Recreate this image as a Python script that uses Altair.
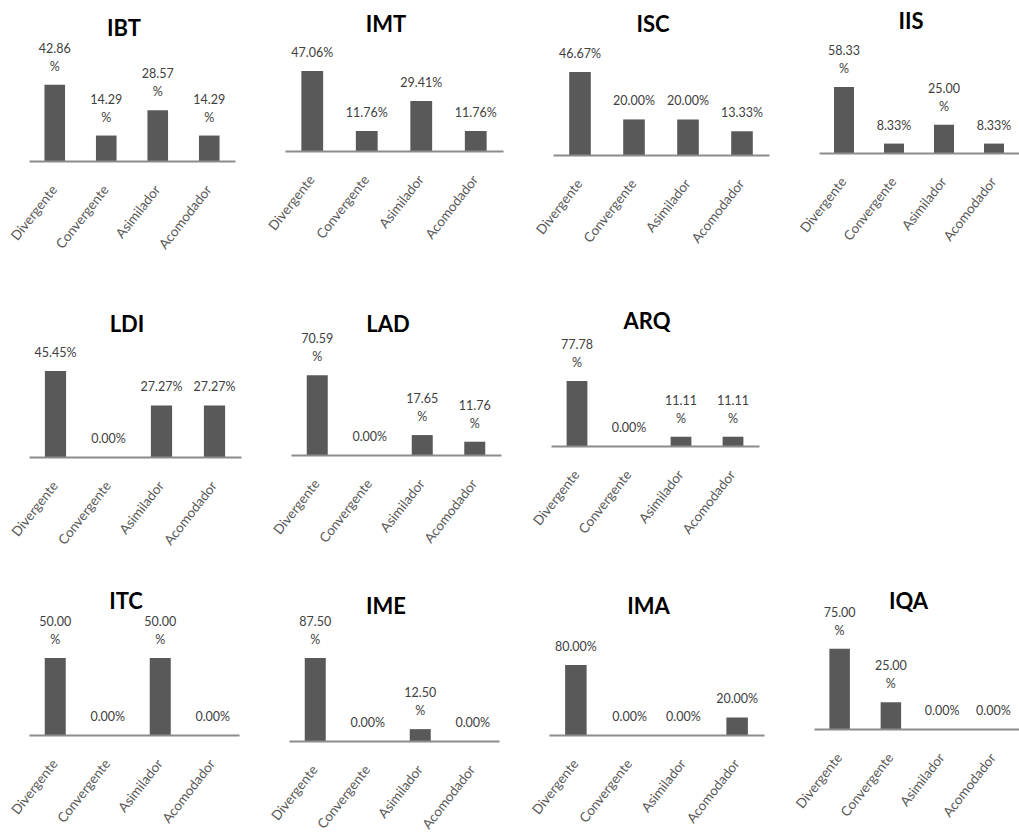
import altair as alt
import pandas as pd

# Learning-style categories shown on every panel
ESTILOS = ["Divergente", "Convergente", "Asimilador", "Acomodador"]

# Percentage of students per learning style, one list per program
IBT = [42.86, 14.29, 28.57, 14.29]
IMT = [47.06, 11.76, 29.41, 11.76]
ISC = [46.67, 20.00, 20.00, 13.33]
IIS = [58.33, 8.33, 25.00, 8.33]
LDI = [45.45, 0.00, 27.27, 27.27]
LAD = [70.59, 0.00, 17.65, 11.76]
ARQ = [77.78, 0.00, 11.11, 11.11]
ITC = [50.00, 0.00, 50.00, 0.00]
IME = [87.50, 0.00, 12.50, 0.00]
IMA = [80.00, 0.00, 0.00, 20.00]
IQA = [75.00, 25.00, 0.00, 0.00]

# Whether the value label breaks the "%" onto a second line
IBT_WRAP = [True, True, True, True]
IMT_WRAP = [False, False, False, False]
ISC_WRAP = [False, False, False, False]
IIS_WRAP = [True, False, True, False]
LDI_WRAP = [False, False, False, False]
LAD_WRAP = [True, False, True, True]
ARQ_WRAP = [True, False, True, True]
ITC_WRAP = [True, False, True, False]
IME_WRAP = [True, False, True, False]
IMA_WRAP = [False, False, False, False]
IQA_WRAP = [True, True, False, False]

# Panel geometry: (width, height, y-axis max, title baseline above plot top)
LAYOUT = {
    "IBT": (206, 112, 62.9, 13),
    "IMT": (218, 102, 60.0, 17),
    "ISC": (216, 106, 59.6, 17),
    "IIS": (200, 104, 92.0, 20),
    "LDI": (212, 118, 62.4, 7),
    "LAD": (210, 116, 102.7, 7),
    "ARQ": (208, 107, 128.0, 10),
    "ITC": (210, 106, 68.8, 20),
    "IME": (210, 112, 117.9, 15),
    "IMA": (215, 106, 121.1, 15),
    "IQA": (205, 100, 93.5, 20),
}

BAR_COLOR = "#595959"
LABEL_COLOR = "#404040"
AXIS_COLOR = "#8c8c8c"
FONT = "Lato"
LINE_H = 18


def panel(name, values, wraps):
    width, height, ymax, title_rise = LAYOUT[name]
    df = pd.DataFrame({
        "estilo": ESTILOS,
        "pct": values,
        "wrap": wraps,
        "etiqueta": [f"{v:.2f}\n%" if w else f"{v:.2f}%" for v, w in zip(values, wraps)],
    })
    x = alt.X(
        "estilo:N",
        sort=ESTILOS,
        title=None,
        scale=alt.Scale(paddingInner=0.6, paddingOuter=0.3),
        axis=alt.Axis(
            labelAngle=-52,
            labelAlign="right",
            labelBaseline="middle",
            labelPadding=26,
            labelFontSize=13.5,
            labelFont=FONT,
            labelColor="#595959",
            ticks=False,
            domainColor=AXIS_COLOR,
            domainWidth=2,
            zindex=1,
        ),
    )
    y = alt.Y("pct:Q", scale=alt.Scale(domain=[0, ymax], nice=False), axis=None)
    base = alt.Chart(df)
    bars = base.mark_bar(color=BAR_COLOR).encode(x=x, y=y)
    text_style = dict(
        baseline="bottom",
        fontSize=12.5,
        font=FONT,
        color=LABEL_COLOR,
        lineBreak="\n",
        lineHeight=LINE_H,
    )
    one_line = (
        base.transform_filter("!datum.wrap")
        .mark_text(dy=-11, **text_style)
        .encode(x=x, y=y, text="etiqueta:N")
    )
    two_lines = (
        base.transform_filter("datum.wrap")
        .mark_text(dy=-11 - LINE_H, **text_style)
        .encode(x=x, y=y, text="etiqueta:N")
    )
    heading = (
        alt.Chart(pd.DataFrame({"nombre": [name]}))
        .mark_text(
            fontSize=22,
            font=FONT,
            fontWeight="bold",
            color="#000000",
            baseline="alphabetic",
            align="center",
        )
        .encode(
            text="nombre:N",
            x=alt.value(width / 2 - 8),
            y=alt.value(-title_rise),
        )
    )
    return alt.layer(bars, one_line, two_lines, heading).properties(
        width=width,
        height=height,
        view=alt.ViewBackground(stroke="transparent", strokeWidth=0),
    )


def row(*charts):
    return alt.hconcat(*charts, spacing=50, bounds="flush").resolve_scale(
        x="independent", y="independent"
    )


fila1 = row(
    panel("IBT", IBT, IBT_WRAP),
    panel("IMT", IMT, IMT_WRAP),
    panel("ISC", ISC, ISC_WRAP),
    panel("IIS", IIS, IIS_WRAP),
)
fila2 = row(
    panel("LDI", LDI, LDI_WRAP),
    panel("LAD", LAD, LAD_WRAP),
    panel("ARQ", ARQ, ARQ_WRAP),
)
fila3 = row(
    panel("ITC", ITC, ITC_WRAP),
    panel("IME", IME, IME_WRAP),
    panel("IMA", IMA, IMA_WRAP),
    panel("IQA", IQA, IQA_WRAP),
)

chart = (
    alt.vconcat(fila1, fila2, fila3, spacing=290, bounds="flush")
    .resolve_scale(x="independent", y="independent")
    .properties(padding={"left": 8, "top": 11, "right": 0, "bottom": 5})
    .configure_view(stroke="transparent", strokeWidth=0)
    .configure(background="#ffffff")
)

chart.save("out.html", embed_options={"renderer": "svg", "actions": False})
